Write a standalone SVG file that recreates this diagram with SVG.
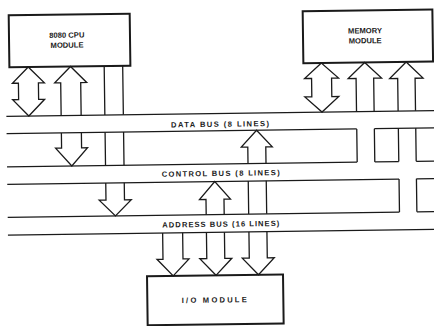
<svg xmlns="http://www.w3.org/2000/svg" width="434" height="326" viewBox="0 0 434 326">
  <style>
    .ln { fill: none; stroke: #1a1a1a; stroke-width: 1.3; stroke-linejoin: miter; }
    .box { fill: #ffffff; stroke: #1a1a1a; stroke-width: 2; }
    .t { font-family: "Liberation Sans", Arial, sans-serif; font-size: 7.6px; font-weight: bold; fill: #1a1a1a; text-anchor: middle; }
  </style>
  <rect x="0" y="0" width="434" height="326" fill="#ffffff"/>
  <!-- the whole sheet sits at a slight tilt -->
  <g transform="rotate(-0.77 217 163)">

    <!-- data bus: lines broken where the memory control path drops through -->
    <g id="data-bus">
      <path class="ln" d="M7,113.5 H445"/>
      <path class="ln" d="M7,130.8 H357.2 M374.8,130.8 H445"/>
      <text class="t" x="220.5" y="126.8" textLength="98" lengthAdjust="spacing">DATA BUS (8 LINES)</text>
    </g>

    <!-- control bus -->
    <g id="control-bus">
      <path class="ln" d="M7,164 H357.2 M374.8,164 H398.8 M416.2,164 H445"/>
      <path class="ln" d="M7,181.5 H398.8 M416.2,181.5 H445"/>
      <text class="t" x="220.5" y="176" textLength="118" lengthAdjust="spacing">CONTROL BUS (8 LINES)</text>
    </g>

    <!-- address bus -->
    <g id="address-bus">
      <path class="ln" d="M7,214.5 H398.8 M416.2,214.5 H445"/>
      <path class="ln" d="M7,232.3 H445"/>
      <text class="t" x="220" y="226.8" textLength="117" lengthAdjust="spacing">ADDRESS BUS (16 LINES)</text>
    </g>

    <g id="cpu-module">
      <rect class="box" x="10.7" y="12.5" width="121" height="52"/>
      <text class="t" x="68.6" y="35.7">8080 CPU</text>
      <text class="t" x="68.6" y="45.7">MODULE</text>
    </g>

    <g id="memory-module">
      <rect class="box" x="304.7" y="12.5" width="129.7" height="52"/>
      <text class="t" x="366.8" y="35.3">MEMORY</text>
      <text class="t" x="366.8" y="45.3">MODULE</text>
    </g>

    <g id="io-module">
      <rect class="box" x="145.5" y="275.3" width="136" height="49"/>
      <text class="t" x="212.4" y="302.5" textLength="65" lengthAdjust="spacing">I/O MODULE</text>
    </g>

    <g id="connectors">
      <!-- CPU: two-way data path -->
      <path class="ln" d="M29.5,64.5 L13.5,80.5 H19.5 V97 H13.5 L29.5,113.5 L45.5,97 H39.5 V80.5 H45.5 Z"/>
      <!-- CPU: control, up from data bus and down to control bus -->
      <path class="ln" d="M61.8,113.5 V80.7 H55.8 L71.8,64.5 L87.8,80.7 H81.8 V113.5"/>
      <path class="ln" d="M61.8,130.8 V146 H55.8 L71.8,164 L87.8,146 H81.8 V130.8"/>
      <!-- CPU: address out, crossing data and control buses -->
      <path class="ln" d="M105.5,64.5 V113.5 M124,64.5 V113.5 M105.5,130.8 V164 M124,130.8 V164"/>
      <path class="ln" d="M105.5,181.5 V198.6 H98.7 L114.75,214.5 L130.8,198.6 H124 V181.5"/>

      <!-- memory: two-way data path -->
      <path class="ln" d="M322.7,64.5 L305.7,79.7 H312.7 V98.1 H305.7 L322.7,113.5 L339.7,98.1 H332.7 V79.7 H339.7 Z"/>
      <!-- memory: control in -->
      <path class="ln" d="M357.2,113.5 V80.3 H349.3 L366,64.5 L382.7,80.3 H374.8 V113.5"/>
      <path class="ln" d="M357.2,130.8 V164 M374.8,130.8 V164"/>
      <!-- memory: address in -->
      <path class="ln" d="M398.8,113.5 V80.9 H390.8 L407.5,64.5 L424.2,80.9 H416.2 V113.5"/>
      <path class="ln" d="M398.8,130.8 V164 M416.2,130.8 V164 M398.8,181.5 V214.5 M416.2,181.5 V214.5"/>

      <!-- I/O: address in -->
      <path class="ln" d="M161.7,232.3 V258.5 H155.7 L171.7,275.3 L187.7,258.5 H181.7 V232.3"/>
      <!-- I/O: control path -->
      <path class="ln" d="M205.5,214.5 V199.3 H199 L214.5,181.5 L230,199.3 H223.5 V214.5"/>
      <path class="ln" d="M205.5,232.3 V258.5 H198.5 L214.5,275.3 L230.5,258.5 H223.5 V232.3"/>
      <!-- I/O: data path -->
      <path class="ln" d="M248,164 V147.5 H241.5 L257,130.8 L272.5,147.5 H266 V164"/>
      <path class="ln" d="M248,181.5 V214.5 M266,181.5 V214.5"/>
      <path class="ln" d="M248,232.3 V258.5 H241 L257,275.3 L273,258.5 H266 V232.3"/>
    </g>
  </g>
</svg>
